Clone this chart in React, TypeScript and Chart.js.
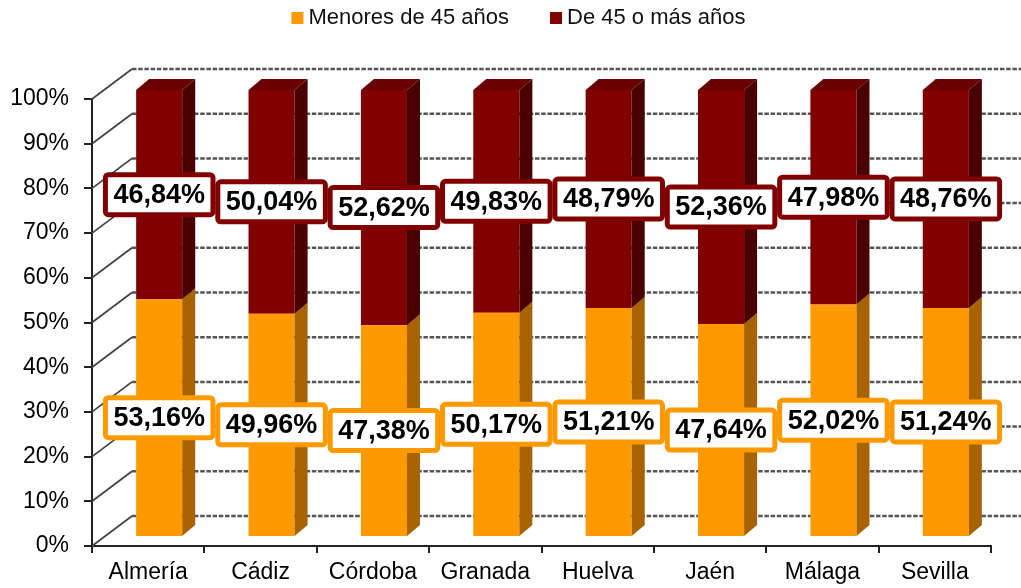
import React, { useEffect, useRef } from 'react';
import { Chart, registerables } from 'chart.js';

Chart.register(...registerables);

const categories = ['Almería', 'Cádiz', 'Córdoba', 'Granada', 'Huelva', 'Jaén', 'Málaga', 'Sevilla'];
const seriesNames = ['Menores de 45 años', 'De 45 o más años'];
const menores = [53.16, 49.96, 47.38, 50.17, 51.21, 47.64, 52.02, 51.24];
const mayores = [46.84, 50.04, 52.62, 49.83, 48.79, 52.36, 47.98, 48.76];
const yTickValues = [0, 10, 20, 30, 40, 50, 60, 70, 80, 90, 100];

const FONT = '"Liberation Sans", Arial, sans-serif';
const ORANGE = '#FF9900';
const ORANGE_SIDE = '#A86300';
const ORANGE_TOP = '#D98200';
const MAROON = '#800000';
const MAROON_SIDE = '#4A0000';
const MAROON_TOP = '#6A0000';

const BAR_DX = 11;
const BAR_DY = -9;
const SIDE_DX = 13;
const SIDE_DY = -11;
const WALL_DX = 40;
const WALL_DY = -30;

const sideColors = [ORANGE_SIDE, MAROON_SIDE];
const topColors = [ORANGE_TOP, MAROON_TOP];
const mainColors = [ORANGE, MAROON];

const fmt = (v: number) => v.toFixed(2).replace('.', ',') + '%';

const threeD = {
  id: 'threeD',
  beforeDatasetsDraw(chart: any) {
    const { ctx, chartArea } = chart;
    const y = chart.scales.y;
    ctx.save();
    yTickValues.forEach((v) => {
      const py = y.getPixelForValue(v);
      ctx.beginPath();
      ctx.setLineDash([]);
      ctx.strokeStyle = '#444';
      ctx.lineWidth = 1.8;
      ctx.moveTo(chartArea.left, py);
      ctx.lineTo(chartArea.left + WALL_DX, py + WALL_DY);
      ctx.stroke();
      ctx.beginPath();
      ctx.setLineDash([4.5, 1.7]);
      ctx.strokeStyle = '#555';
      ctx.lineWidth = 2.5;
      ctx.moveTo(chartArea.left + WALL_DX, py + WALL_DY);
      ctx.lineTo(chart.width, py + WALL_DY);
      ctx.stroke();
    });
    ctx.restore();
    ctx.save();
    ctx.translate(BAR_DX, BAR_DY);
  },
  afterDatasetsDraw(chart: any) {
    const { ctx } = chart;
    const nSets = chart.data.datasets.length;
    for (let d = 0; d < nSets; d++) {
      const meta = chart.getDatasetMeta(d);
      meta.data.forEach((el: any) => {
        const p = el.getProps(['x', 'y', 'base', 'width'], true);
        const left = p.x - p.width / 2;
        const right = p.x + p.width / 2;
        const top = Math.min(p.y, p.base);
        const bottom = Math.max(p.y, p.base);
        ctx.beginPath();
        ctx.moveTo(right, bottom);
        ctx.lineTo(right, top);
        ctx.lineTo(right + SIDE_DX, top + SIDE_DY);
        ctx.lineTo(right + SIDE_DX, bottom + SIDE_DY);
        ctx.closePath();
        ctx.fillStyle = sideColors[d];
        ctx.fill();
        if (d === nSets - 1) {
          ctx.beginPath();
          ctx.moveTo(left, top);
          ctx.lineTo(left + SIDE_DX, top + SIDE_DY);
          ctx.lineTo(right + SIDE_DX, top + SIDE_DY);
          ctx.lineTo(right, top);
          ctx.closePath();
          ctx.fillStyle = topColors[d];
          ctx.fill();
        }
      });
    }
    ctx.font = `bold 27px ${FONT}`;
    ctx.textAlign = 'center';
    ctx.textBaseline = 'middle';
    for (let d = 0; d < nSets; d++) {
      const meta = chart.getDatasetMeta(d);
      const data = chart.data.datasets[d].data as number[];
      meta.data.forEach((el: any, i: number) => {
        const p = el.getProps(['x', 'y', 'base'], true);
        const text = fmt(data[i]);
        const w = ctx.measureText(text).width;
        const bw = w + 16;
        const bh = 40;
        const cx = p.x;
        const cy = (p.y + p.base) / 2;
        ctx.beginPath();
        if (ctx.roundRect) ctx.roundRect(cx - bw / 2, cy - bh / 2, bw, bh, 3);
        else ctx.rect(cx - bw / 2, cy - bh / 2, bw, bh);
        ctx.fillStyle = '#fff';
        ctx.fill();
        ctx.lineWidth = 5;
        ctx.strokeStyle = mainColors[d];
        ctx.stroke();
        ctx.fillStyle = '#000';
        ctx.fillText(text, cx, cy + 1);
      });
    }
    ctx.restore();
  },
  afterDraw(chart: any) {
    const { ctx } = chart;
    ctx.save();
    ctx.font = `22px ${FONT}`;
    ctx.textBaseline = 'middle';
    ctx.textAlign = 'left';
    const box = 12;
    const gap = 5;
    const itemGap = 41;
    const widths = seriesNames.map((s) => ctx.measureText(s).width);
    const total = widths.reduce((a, w) => a + box + gap + w, 0) + itemGap * (seriesNames.length - 1);
    let x = 518.5 - total / 2;
    const cy = 18;
    seriesNames.forEach((s, i) => {
      ctx.fillStyle = mainColors[i];
      ctx.fillRect(x, cy - box / 2, box, box);
      ctx.fillStyle = '#111';
      ctx.fillText(s, x + box + gap, cy);
      x += box + gap + widths[i] + itemGap;
    });
    ctx.restore();
  },
};

export default function App() {
  const ref = useRef<HTMLCanvasElement | null>(null);
  useEffect(() => {
    if (!ref.current) return;
    const chart = new Chart(ref.current, {
      type: 'bar',
      data: {
        labels: categories,
        datasets: [
          { label: seriesNames[0], data: menores, backgroundColor: ORANGE, borderWidth: 0, categoryPercentage: 0.41, barPercentage: 1, clip: false as any },
          { label: seriesNames[1], data: mayores, backgroundColor: MAROON, borderWidth: 0, categoryPercentage: 0.41, barPercentage: 1, clip: false as any },
        ],
      },
      options: {
        responsive: false,
        animation: false,
        devicePixelRatio: 1,
        layout: { padding: { top: 99, right: 30, left: 0, bottom: 0 } },
        plugins: { legend: { display: false }, tooltip: { enabled: false } },
        scales: {
          x: {
            stacked: true,
            grid: { offset: true, drawOnChartArea: false, tickLength: 7, color: '#222', lineWidth: 2 },
            border: { color: '#222', width: 2 },
            ticks: { font: { family: FONT, size: 23 }, color: '#000', padding: 6, maxRotation: 0, autoSkip: false },
            afterFit: (s: any) => { s.height = 42; },
          },
          y: {
            stacked: true,
            min: 0,
            max: 100,
            ticks: { stepSize: 10, callback: (v: any) => v + '%', font: { family: FONT, size: 23 }, color: '#000', padding: 15 },
            grid: { drawOnChartArea: false, tickLength: 8, color: '#222', lineWidth: 2 },
            border: { color: '#222', width: 2 },
            afterFit: (s: any) => { s.width = 92; },
          },
        },
      },
      plugins: [threeD],
    });
    return () => chart.destroy();
  }, []);
  return (
    <div style={{ position: 'absolute', left: 0, top: 0, width: 1021, height: 588, background: '#fff' }}>
      <canvas ref={ref} width={1021} height={588} style={{ display: 'block' }} />
    </div>
  );
}
